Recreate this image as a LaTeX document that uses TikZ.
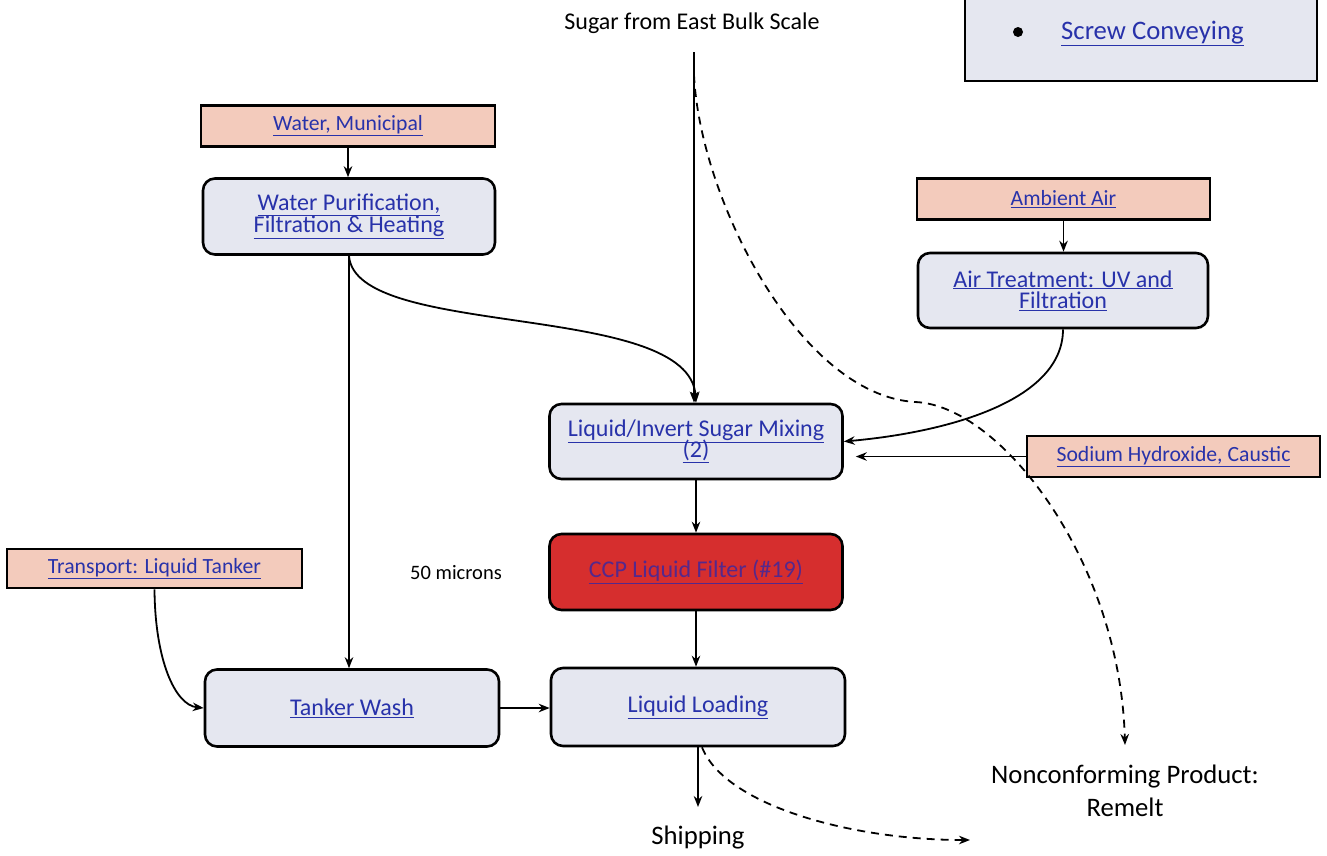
\documentclass[tikz,border=0pt]{standalone}
\usepackage{fontspec}
\setmainfont{Carlito}
\usetikzlibrary{arrows.meta}
\definecolor{salmon}{RGB}{243,203,188}
\definecolor{procfill}{RGB}{229,231,240}
\definecolor{ccpred}{RGB}{214,46,46}
\definecolor{linkblue}{RGB}{40,50,170}
\definecolor{ccptext}{RGB}{85,40,140}
\newcommand{\lnk}[1]{\underline{#1}}
\lineskiplimit=-50pt
\begin{document}
\begin{tikzpicture}[x=1pt,y=-1pt,
  salmonbox/.style={draw=black,line width=2.6pt,fill=salmon,minimum width=293pt,minimum height=41pt,inner sep=0pt,text=linkblue,font=\fontsize{21.7}{21.7}\selectfont},
  procbox/.style={draw=black,line width=2.6pt,fill=procfill,rounded corners=12pt,minimum width=292pt,minimum height=76pt,inner sep=0pt,text=linkblue,align=center,font=\fontsize{24}{21.5}\selectfont},
  flow/.style={line width=1.8pt,-{Stealth[length=11pt,width=8.5pt]}},
  dflow/.style={flow,dash pattern=on 8pt off 6pt},
  plaintext/.style={inner sep=0pt,align=center,text=black}
]
\clip (0,0) rectangle (1327,855);
\path[use as bounding box] (0,0) rectangle (1327,855);

% legend box
\node[draw=black,line width=2.6pt,fill=procfill,minimum width=352pt,minimum height=130pt,inner sep=0pt] (legend) at (1141,16) {};
\node[circle,fill=black,inner sep=0pt,minimum size=10pt] (bullet) at (1018,32) {};
\node[anchor=base west,inner sep=0pt,text=linkblue,font=\fontsize{26.7}{26.7}\selectfont] (legtext) at (1061,39) {\lnk{Screw Conveying}};

% texts
\node[plaintext,anchor=base,font=\fontsize{24}{24}\selectfont] (sugar) at (692,29) {Sugar from East Bulk Scale};
\node[plaintext,font=\fontsize{20.5}{20.5}\selectfont] (microns) at (456,573) {50 microns};
\node[plaintext,font=\fontsize{26.7}{26.7}\selectfont] (ship) at (698,838) {Shipping};
\node[plaintext,font=\fontsize{26.7}{33}\selectfont] (nc) at (1125,791) {Nonconforming Product:\\Remelt};

% boxes
\node[salmonbox,minimum width=294pt] (water) at (348,126) {\lnk{Water, Municipal}};
\node[procbox] (wp) at (349,216.5) {\lnk{Water Purification,}\\ \lnk{Filtration \& Heating}};
\node[salmonbox] (amb) at (1063.5,199) {\lnk{Ambient Air}};
\node[procbox,minimum width=290pt,minimum height=75pt] (air) at (1063,290.5) {\lnk{Air Treatment: UV and}\\ \lnk{Filtration}};
\node[procbox,minimum width=293pt,minimum height=75pt] (mix) at (696,441.5) {\lnk{Liquid/Invert Sugar Mixing}\\ \lnk{(2)}};
\node[salmonbox] (sod) at (1173.5,456.5) {\lnk{Sodium Hydroxide, Caustic}};
\node[procbox,minimum width=293pt,fill=ccpred,text=ccptext] (ccp) at (696,572) {\lnk{CCP Liquid Filter (\#19)}};
\node[salmonbox,minimum width=295pt,minimum height=39pt] (tr) at (154.5,568.5) {\lnk{Transport: Liquid Tanker}};
\node[procbox,minimum width=294pt,minimum height=77pt] (tw) at (352,708) {\lnk{Tanker Wash}};
\node[procbox,minimum width=294pt,minimum height=78pt] (ll) at (698,707) {\lnk{Liquid Loading}};

% coordinates
\coordinate (sugtop) at (694,52);
\coordinate (dstart) at (694,75);
\coordinate (dmid) at (915,402);
\coordinate (ncend) at (1125,745);
\coordinate (shipend) at (698,807);
\coordinate (remend) at (970,840);

% connectors
\draw[flow] (water.south) -- (water.south |- wp.north);
\draw[flow] (amb.south) -- (amb.south |- air.north);
\draw[flow] (sugtop) -- (sugtop |- mix.north);
\draw[flow] (wp.south) .. controls (355,340) and (690,300) .. (mix.north);
\draw[flow] (wp.south) -- (wp.south |- tw.north);
\draw[flow] (air.south) .. controls (1063,400) and (950,432) .. (mix.east);
\draw[flow] (sod.west) -- ([xshift=12pt]mix.east |- sod.west);
\draw[flow] (mix.south) -- (ccp.north);
\draw[flow] (ccp.south) -- (ccp.south |- ll.north);
\draw[flow] (tr.south) .. controls (155,660) and (175,705) .. (tw.west);
\draw[flow] (tw.east) -- (tw.east -| ll.west);
\draw[flow] (ll.south) -- (shipend);
\draw[dflow] (dstart) .. controls (700,200) and (800,395) .. (dmid) .. controls (1000,405) and (1120,560) .. (ncend);
\draw[dflow] ([xshift=4pt]ll.south) .. controls (725,805) and (850,840) .. (remend);
\end{tikzpicture}
\end{document}
